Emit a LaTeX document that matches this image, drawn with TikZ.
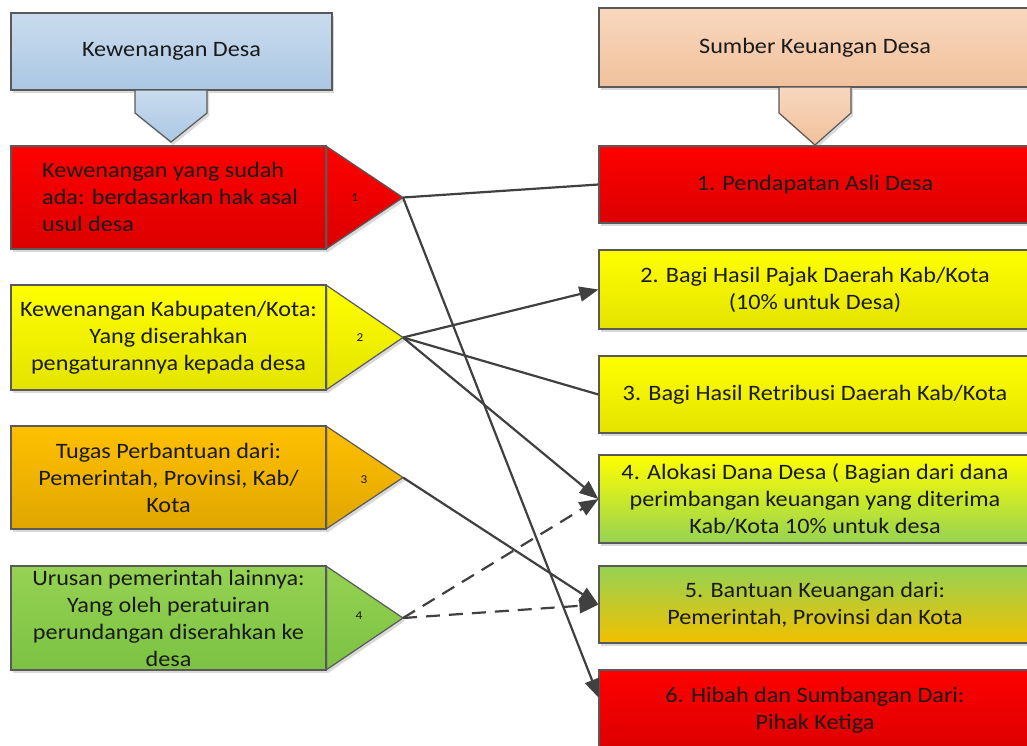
\documentclass[tikz,border=0pt]{standalone}
\usepackage{fontspec}
\setmainfont{Carlito}[FakeStretch=1.1]
\usetikzlibrary{arrows.meta,shadows}

\definecolor{edge}{HTML}{595959}
\definecolor{ink}{HTML}{1A1A1A}
\definecolor{wire}{HTML}{404040}
\definecolor{blueT}{HTML}{C9DCEE}
\definecolor{blueB}{HTML}{ABC7E3}
\definecolor{peachT}{HTML}{F8D7BE}
\definecolor{peachB}{HTML}{F1C19C}
\definecolor{redT}{HTML}{FF0000}
\definecolor{redB}{HTML}{DC0000}
\definecolor{yelT}{HTML}{FFFF00}
\definecolor{yelB}{HTML}{E3E300}
\definecolor{orgT}{HTML}{FFC000}
\definecolor{orgB}{HTML}{E0A600}
\definecolor{grnT}{HTML}{96D253}
\definecolor{grnB}{HTML}{7CC242}
\definecolor{goldB}{HTML}{F2C000}

\newcommand\boxfont{\fontsize{22}{27}\selectfont}
\newcommand\numfont{\fontsize{12}{14}\selectfont}

\tikzset{
  frame/.style={draw=edge, line width=1.2pt},
  softshadow/.style={drop shadow={shadow xshift=2pt, shadow yshift=-3pt, opacity=0.25, fill=black!60}},
  box/.style={frame, rectangle, inner sep=0pt, align=center, text=ink, font=\boxfont, softshadow},
  bluefill/.style={top color=blueT, bottom color=blueB},
  peachfill/.style={top color=peachT, bottom color=peachB},
  redfill/.style={top color=redT, bottom color=redB},
  yelfill/.style={top color=yelT, bottom color=yelB},
  orgfill/.style={top color=orgT, bottom color=orgB},
  grnfill/.style={top color=grnT, bottom color=grnB},
  yelgrnfill/.style={top color=yelT, bottom color=grnT},
  grngoldfill/.style={top color=grnT, bottom color=goldB},
  num/.style={font=\numfont, text=ink, inner sep=0pt},
  wireline/.style={draw=wire, line width=2.2pt},
  link/.style={wireline, -{Triangle[length=19pt,width=15pt]}},
  dashlink/.style={link, dash pattern=on 14pt off 9pt},
}

\begin{document}
\begin{tikzpicture}[x=1pt,y=-1pt]
\useasboundingbox (0,0) rectangle (1027,745);

% ---- left column: authority of the village ----
\node[box, bluefill, minimum width=321pt, minimum height=77pt] (lhead) at (171.5,51.5) {Kewenangan Desa};
\path[frame, bluefill, softshadow] (135,90) -- (207,90) -- (207,113) -- (171,142) -- (135,113) -- cycle;

% item 1
\path[redfill, softshadow] (326,146) -- (403,197.5) -- (326,249) -- cycle;
\draw[frame] (326,146) -- (403,197.5) -- (326,249);
\coordinate (t1) at (403,197.5);
\node[box, redfill, minimum width=315pt, minimum height=103pt] (l1) at (168.5,197.5) {};
\node[font=\boxfont, text=ink, align=left, anchor=west, inner sep=0pt] (l1txt) at (42,197)
  {Kewenangan yang sudah\\ada: berdasarkan hak asal\\usul desa};
\node[num] (n1) at (355,197.5) {1};

% item 2
\path[yelfill, softshadow] (326,285) -- (403,337.5) -- (326,390) -- cycle;
\draw[frame] (326,285) -- (403,337.5) -- (326,390);
\coordinate (t2) at (403,337.5);
\node[box, yelfill, minimum width=315pt, minimum height=105pt] (l2) at (168.5,337.5)
  {Kewenangan Kabupaten/Kota:\\Yang diserahkan\\pengaturannya kepada desa};
\node[num] (n2) at (360,337.5) {2};

% item 3
\path[orgfill, softshadow] (326,426) -- (403,477.5) -- (326,529) -- cycle;
\draw[frame] (326,426) -- (403,477.5) -- (326,529);
\coordinate (t3) at (403,477.5);
\node[box, orgfill, minimum width=315pt, minimum height=103pt] (l3) at (168.5,477.5)
  {Tugas Perbantuan dari:\\Pemerintah, Provinsi, Kab/\\Kota};
\node[num] (n3) at (364,480) {3};

% item 4
\path[grnfill, softshadow] (326,566) -- (403,618) -- (326,670) -- cycle;
\draw[frame] (326,566) -- (403,618) -- (326,670);
\coordinate (t4) at (403,618);
\node[box, grnfill, minimum width=315pt, minimum height=104pt] (l4) at (168.5,618)
  {Urusan pemerintah lainnya:\\Yang oleh peratuiran\\perundangan diserahkan ke\\desa};
\node[num] (n4) at (359,616) {4};

% ---- right column: sources of village finance ----
\node[box, peachfill, minimum width=432pt, minimum height=79pt] (rhead) at (815,47.5) {Sumber Keuangan Desa};
\path[frame, peachfill, softshadow] (779,87) -- (851,87) -- (851,113) -- (815,145) -- (779,113) -- cycle;

\node[box, redfill, minimum width=432pt, minimum height=77pt] (r1) at (815,184.5) {1. Pendapatan Asli Desa};
\node[box, yelfill, minimum width=432pt, minimum height=79pt] (r2) at (815,289.5)
  {2. Bagi Hasil Pajak Daerah Kab/Kota\\(10\% untuk Desa)};
\node[box, yelfill, minimum width=432pt, minimum height=77pt] (r3) at (815,394.5)
  {3. Bagi Hasil Retribusi Daerah Kab/Kota};
\node[box, yelgrnfill, minimum width=432pt, minimum height=88pt] (r4) at (815,499)
  {4. Alokasi Dana Desa ( Bagian dari dana\\perimbangan keuangan yang diterima\\Kab/Kota 10\% untuk desa};
\node[box, grngoldfill, minimum width=432pt, minimum height=77pt] (r5) at (815,604.5)
  {5. Bantuan Keuangan dari:\\Pemerintah, Provinsi dan Kota};
\node[box, redfill, minimum width=432pt, minimum height=80pt] (r6) at (815,710)
  {6. Hibah dan Sumbangan Dari:\\Pihak Ketiga};
\coordinate (r6in) at (599,698);

% ---- connectors ----
\draw[wireline] (t1) -- (r1.west);
\draw[link] (t1) -- (r6in);
\draw[link] (t2) -- (r2.west);
\draw[wireline] (t2) -- (r3.west);
\draw[link] (t2) -- (r4.west);
\draw[link] (t3) -- (r5.west);
\draw[dashlink] (t4) -- (r4.west);
\draw[dashlink] (t4) -- (r5.west);
\end{tikzpicture}
\end{document}
